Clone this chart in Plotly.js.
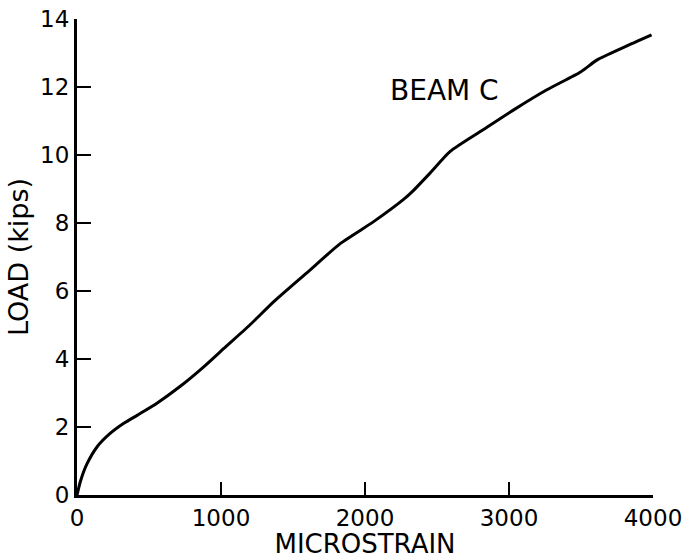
<!DOCTYPE html>
<html>
<head>
<meta charset="utf-8">
<script src="https://cdn.plot.ly/plotly-3.0.1.min.js"></script>
<style>html,body{margin:0;padding:0;background:#fff;}#chart{width:700px;height:559px;}</style>
</head>
<body>
<div id="chart"></div>
<script>
const microstrain = [0, 25, 70, 140, 230, 325, 420, 555, 715, 880, 1020, 1200, 1365, 1600, 1830, 2060, 2270, 2330, 2450, 2590, 2820, 3030, 3260, 3500, 3610, 3800, 3990];
const loadKips   = [0, 0.42, 0.92, 1.42, 1.81, 2.11, 2.35, 2.70, 3.19, 3.77, 4.31, 5.0, 5.68, 6.55, 7.40, 8.04, 8.70, 8.93, 9.46, 10.1, 10.74, 11.32, 11.91, 12.45, 12.79, 13.17, 13.53];
const xTickVals = [0, 1000, 2000, 3000, 4000];
const yTickVals = [0, 2, 4, 6, 8, 10, 12, 14];
const seriesLabel = "BEAM C";

const font = "DejaVu Sans, Arial, sans-serif";

const trace = {
  x: microstrain, y: loadKips, type: "scatter", mode: "lines",
  line: {color: "#000", width: 3, shape: "spline", smoothing: 0.6},
  hoverinfo: "skip", showlegend: false
};

const layout = {
  width: 700, height: 559,
  margin: {l: 77, r: 47, t: 19, b: 64},
  paper_bgcolor: "#fff", plot_bgcolor: "#fff",
  font: {family: font, color: "#000", size: 23},
  showlegend: false,
  xaxis: {
    range: [0, 4000], tickvals: xTickVals, ticktext: xTickVals.map(String),
    ticks: "inside", ticklen: 13, tickwidth: 2, tickcolor: "#000",
    showline: true, linecolor: "#000", linewidth: 3, showgrid: false, zeroline: false,
    tickfont: {family: font, size: 23, color: "#000"},
    title: {text: "MICROSTRAIN", font: {family: font, size: 26, color: "#000"}, standoff: 4},
    automargin: false, fixedrange: true
  },
  yaxis: {
    range: [0, 14], tickvals: yTickVals, ticktext: yTickVals.map(String),
    ticks: "inside", ticklen: 14, tickwidth: 2, tickcolor: "#000",
    showline: true, linecolor: "#000", linewidth: 3, showgrid: false, zeroline: false,
    tickfont: {family: font, size: 23, color: "#000"},
    title: {text: "LOAD (kips)", font: {family: font, size: 27, color: "#000"}, standoff: 4},
    automargin: false, fixedrange: true
  },
  annotations: [{
    x: 2550, y: 11.9, xref: "x", yref: "y", text: seriesLabel, showarrow: false,
    font: {family: font, size: 28, color: "#000"}
  }]
};

Plotly.newPlot("chart", [trace], layout, {displayModeBar: false, staticPlot: true});
</script>
</body>
</html>
